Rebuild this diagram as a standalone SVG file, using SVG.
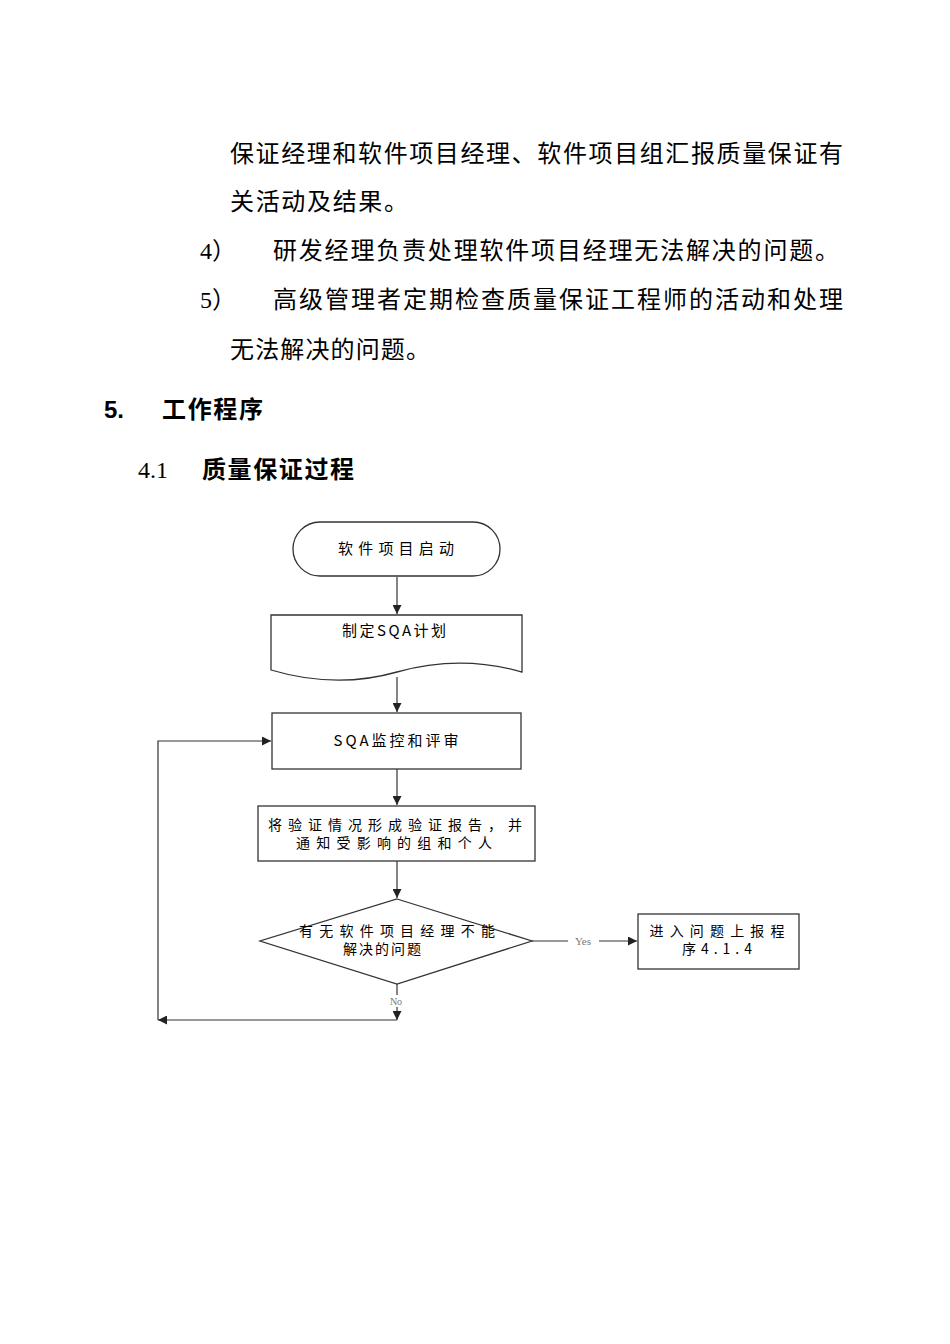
<svg xmlns="http://www.w3.org/2000/svg" width="950" height="1344" viewBox="0 0 950 1344">
<defs>
<style>
.body{font-family:"Liberation Serif","Noto Sans CJK SC",serif;font-size:24px;fill:#000}
.bold{font-family:"Liberation Sans","Noto Sans CJK SC",sans-serif;font-size:24px;font-weight:bold;fill:#000}
.num{font-family:"Liberation Serif","Noto Sans CJK SC",serif;font-size:24px;fill:#000}
.n{fill:#fff;stroke:#333;stroke-width:1.3}
.t{font-family:"Noto Sans CJK SC",sans-serif;font-size:15px;fill:#000;text-anchor:middle}
.t2{font-family:"Noto Sans CJK SC",sans-serif;font-size:14px;fill:#000;text-anchor:middle}
.c{fill:none;stroke:#333;stroke-width:1.2}
.lbl{font-family:"Liberation Serif",serif;font-size:11px;fill:#777;text-anchor:middle}
</style>
<marker id="ah" viewBox="0 0 10 10" refX="10" refY="5" markerWidth="9" markerHeight="9" markerUnits="userSpaceOnUse" orient="auto">
<path d="M0,0 L10,5 L0,10 Z" fill="#222"/>
</marker>
</defs>
<rect width="950" height="1344" fill="#fff"/>

<g id="text-body">
<text class="body" x="230" y="162" textLength="613" lengthAdjust="spacing">保证经理和软件项目经理、软件项目组汇报质量保证有</text>
<text class="body" x="230" y="210" textLength="178" lengthAdjust="spacing">关活动及结果。</text>
<text class="num" x="200" y="259">4）</text>
<text class="body" x="273" y="259" textLength="566" lengthAdjust="spacing">研发经理负责处理软件项目经理无法解决的问题。</text>
<text class="num" x="200" y="308">5）</text>
<text class="body" x="273" y="308" textLength="570" lengthAdjust="spacing">高级管理者定期检查质量保证工程师的活动和处理</text>
<text class="body" x="230" y="358" textLength="200" lengthAdjust="spacing">无法解决的问题。</text>
<text class="bold" x="104" y="418">5.</text>
<text class="bold" x="162" y="418" textLength="101" lengthAdjust="spacing">工作程序</text>
<text class="num" x="138" y="478">4.1</text>
<text class="bold" x="202" y="478" textLength="152" lengthAdjust="spacing">质量保证过程</text>
</g>

<g id="connectors">
<line class="c" x1="397" y1="577" x2="397" y2="614" marker-end="url(#ah)"/>
<line class="c" x1="397" y1="677" x2="397" y2="712" marker-end="url(#ah)"/>
<line class="c" x1="397" y1="769" x2="397" y2="805" marker-end="url(#ah)"/>
<line class="c" x1="397" y1="861" x2="397" y2="898" marker-end="url(#ah)"/>
<line class="c" x1="532" y1="941" x2="568" y2="941"/>
<line class="c" x1="599" y1="941" x2="637" y2="941" marker-end="url(#ah)"/>
<text class="lbl" x="583" y="945">Yes</text>
<line class="c" x1="397" y1="984" x2="397" y2="995"/>
<line class="c" x1="397" y1="1007" x2="397" y2="1020" marker-end="url(#ah)"/>
<text class="lbl" x="396" y="1005" style="font-size:10px">No</text>
<line class="c" x1="397" y1="1020" x2="158" y2="1020" marker-end="url(#ah)"/>
<polyline class="c" points="158,1020 158,741 271,741" marker-end="url(#ah)"/>
</g>

<g id="start">
<rect class="n" x="293" y="522" width="207" height="54" rx="27" ry="27"/>
<text class="t" x="396" y="554" textLength="116" lengthAdjust="spacing">软件项目启动</text>
</g>

<g id="plan">
<path class="n" d="M271,615 H522 V672 C480,660 440,660 397,672 C355,684 315,683 271,670 Z"/>
<text class="t" x="394" y="636" textLength="104" lengthAdjust="spacing">制定SQA计划</text>
</g>

<g id="monitor">
<rect class="n" x="272" y="713" width="249" height="56"/>
<text class="t" x="396" y="746" textLength="125" lengthAdjust="spacing">SQA监控和评审</text>
</g>

<g id="report">
<rect class="n" x="258" y="806" width="277" height="55"/>
<text class="t2" x="395" y="830" textLength="254" lengthAdjust="spacing">将验证情况形成验证报告，并</text>
<text class="t2" x="394" y="848" textLength="196" lengthAdjust="spacing">通知受影响的组和个人</text>
</g>

<g id="decision">
<polygon class="n" points="397,899 532,941 397,984 260,941"/>
<text class="t2" x="397" y="936" textLength="196" lengthAdjust="spacing">有无软件项目经理不能</text>
<text class="t2" x="382" y="954" textLength="78" lengthAdjust="spacing">解决的问题</text>
</g>

<g id="escalate">
<rect class="n" x="638" y="914" width="161" height="55"/>
<text class="t2" x="717" y="936" textLength="135" lengthAdjust="spacing">进入问题上报程</text>
<text class="t2" x="717" y="954" textLength="70" lengthAdjust="spacing">序4.1.4</text>
</g>
</svg>
